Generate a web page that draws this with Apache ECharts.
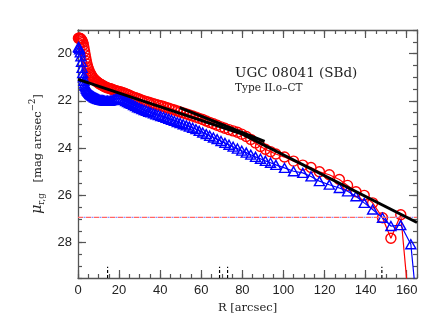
<!DOCTYPE html>
<html><head><meta charset="utf-8">
<script src="https://cdn.jsdelivr.net/npm/echarts@6/dist/echarts.min.js"></script>
<style>html,body{margin:0;padding:0;background:#fff}#c{width:430px;height:333px}</style>
</head><body><div id="c"></div>
<script>
// ---- data ----
const radius = [0.2, 0.5, 0.8, 1.1, 1.4, 1.7, 2.0, 2.3, 2.6, 2.9,
  3.2, 3.5, 3.8, 4.1, 4.4, 4.7, 5.0, 5.4, 5.8, 6.2,
  6.6, 7.0, 7.5, 8.0, 8.5, 9.0, 9.5, 10.0, 10.6, 11.2,
  11.8, 12.4, 13.0, 13.7, 14.4, 15.1, 15.8, 16.5, 17.3, 18.1,
  18.9, 19.7, 20.5, 21.4, 22.3, 23.2, 24.1, 25.0, 26.0, 27.0,
  28.0, 29.0, 30.0, 31.1, 32.2, 33.3, 34.4, 35.5, 36.7, 37.9,
  39.1, 40.3, 41.6, 42.9, 44.2, 45.5, 46.9, 48.3, 49.7, 51.2,
  52.7, 54.2, 55.8, 57.4, 59.0, 60.7, 62.4, 64.1, 65.9, 67.7,
  69.6, 71.5, 73.5, 75.5, 77.6, 79.7, 81.9, 84.1, 86.4, 88.8,
  91.2, 93.7, 96.3, 100.5, 104.9, 109.4, 113.4, 117.5, 122.3, 127.2,
  131.2, 135.3, 139.3, 143.4, 148.2, 152.3, 157.1, 162.0, 166.5];
const muR = [19.35, 19.35, 19.35, 19.36, 19.38, 19.42, 19.47, 19.53, 19.62, 19.75,
  19.9, 20.05, 20.2, 20.33, 20.45, 20.56, 20.64, 20.73, 20.81, 20.88,
  20.94, 20.99, 21.05, 21.1, 21.14, 21.18, 21.21, 21.24, 21.28, 21.31,
  21.34, 21.37, 21.4, 21.42, 21.45, 21.47, 21.49, 21.51, 21.54, 21.56,
  21.58, 21.6, 21.61, 21.64, 21.67, 21.7, 21.73, 21.76, 21.8, 21.84,
  21.87, 21.9, 21.93, 21.97, 22.0, 22.04, 22.06, 22.09, 22.12, 22.15,
  22.18, 22.21, 22.24, 22.28, 22.31, 22.35, 22.39, 22.43, 22.47, 22.51,
  22.55, 22.6, 22.64, 22.69, 22.74, 22.79, 22.85, 22.91, 22.97, 23.03,
  23.1, 23.16, 23.22, 23.27, 23.33, 23.41, 23.51, 23.63, 23.78, 23.93,
  24.05, 24.15, 24.25, 24.38, 24.55, 24.72, 24.82, 25.0, 25.13, 25.33,
  25.58, 25.85, 26.0, 26.32, 26.95, 27.82, 26.82, 31.5, 33.0];
const muG = [19.72, 19.75, 19.82, 19.95, 20.12, 20.35, 20.6, 20.82, 21.0, 21.15,
  21.27, 21.36, 21.43, 21.49, 21.54, 21.58, 21.62, 21.66, 21.7, 21.73,
  21.76, 21.79, 21.82, 21.85, 21.87, 21.89, 21.91, 21.93, 21.95, 21.96,
  21.97, 21.98, 21.99, 22.0, 22.0, 22.0, 21.99, 21.97, 21.95, 21.92,
  21.9, 21.89, 21.9, 21.93, 21.97, 22.01, 22.05, 22.09, 22.13, 22.18,
  22.22, 22.27, 22.31, 22.35, 22.39, 22.42, 22.46, 22.49, 22.53, 22.57,
  22.6, 22.64, 22.68, 22.72, 22.76, 22.8, 22.85, 22.9, 22.94, 22.99,
  23.04, 23.09, 23.14, 23.2, 23.27, 23.34, 23.41, 23.48, 23.55, 23.62,
  23.7, 23.78, 23.86, 23.94, 24.02, 24.11, 24.19, 24.28, 24.37, 24.45,
  24.54, 24.62, 24.71, 24.84, 24.98, 25.05, 25.2, 25.4, 25.55, 25.69,
  25.83, 26.04, 26.32, 26.6, 26.95, 27.3, 27.26, 28.07, 32.1];
const xTickLabels = [0, 20, 40, 60, 80, 100, 120, 140, 160];
const yTickLabels = [20, 22, 24, 26, 28];
const innerFit = [[0, 21.09], [80, 23.41]];
const outerFit = [[80, 23.41], [165, 27.15]];
const midFit = [[49.5, 22.29], [90.8, 23.72]];
const breakMarks = [14.4, 68.9, 72.8, 147.9];
const skyLevel = 26.93;
const markTop = 29.02;
const xRange = [0, 165];
const yRange = [19, 29.5];
// -----------------------------------------

const AX = '#555';
const numFont = 'Liberation Sans';
const serif = 'DejaVu Serif';

function xAx(pos, major, labels) {
  const a = {
    type: 'value', position: pos, min: xRange[0], max: xRange[1],
    splitLine: { show: false },
    axisLine: { show: major, onZero: false, lineStyle: { color: AX, width: 1.3 } },
    axisTick: { inside: true, length: major ? 8 : 4, lineStyle: { color: AX, width: 1.2 } },
    axisLabel: { show: false }
  };
  if (major) {
    a.axisTick.customValues = xTickLabels;
    a.axisLabel = { show: labels, customValues: xTickLabels, color: '#222', fontFamily: numFont, fontSize: 13, margin: 6 };
  } else {
    a.interval = 5;
  }
  return a;
}
function yAx(pos, major, labels) {
  const a = {
    type: 'value', position: pos, min: yRange[0], max: yRange[1], inverse: true,
    splitLine: { show: false },
    axisLine: { show: major, onZero: false, lineStyle: { color: AX, width: 1.3 } },
    axisTick: { inside: true, length: major ? 8 : 4, lineStyle: { color: AX, width: 1.2 } },
    axisLabel: { show: false }
  };
  if (major) {
    a.axisTick.customValues = yTickLabels;
    a.axisLabel = { show: labels, customValues: yTickLabels, color: '#222', fontFamily: numFont, fontSize: 13, margin: 6 };
  } else {
    a.interval = 0.5;
  }
  return a;
}

const xAxes = [xAx('bottom', true, true), xAx('bottom', false), xAx('top', true, false), xAx('top', false)];
xAxes[0].name = 'R [arcsec]';
xAxes[0].nameLocation = 'middle';
xAxes[0].nameGap = 18;
xAxes[0].nameTextStyle = { fontFamily: serif, fontSize: 11.5, color: '#222' };

const yAxes = [yAx('left', true, true), yAx('left', false), yAx('right', true, false), yAx('right', false)];
yAxes[0].name = '{mu|μ}{sub|r,g}{t|   [mag arcsec}{sup|−2}{t|]}';
yAxes[0].nameLocation = 'middle';
yAxes[0].nameRotate = 90;
yAxes[0].nameGap = 30;
yAxes[0].nameTextStyle = {
  color: '#222',
  rich: {
    mu: { fontFamily: serif, fontStyle: 'italic', fontSize: 14, lineHeight: 18, color: '#222' },
    sub: { fontFamily: serif, fontSize: 8.5, lineHeight: 18, verticalAlign: 'bottom', color: '#222' },
    t: { fontFamily: serif, fontSize: 11.5, lineHeight: 18, color: '#222' },
    sup: { fontFamily: serif, fontSize: 8.5, lineHeight: 18, verticalAlign: 'top', color: '#222' }
  }
};

const pairs = (xs, ys) => xs.map((x, i) => [x, ys[i]]);

const series = [
  {
    type: 'line', name: 'r', data: pairs(radius, muR), clip: true,
    symbol: 'circle', symbolSize: 10, showAllSymbol: true,
    itemStyle: { color: 'rgba(0,0,0,0)', borderColor: '#ff0000', borderWidth: 1.4 },
    lineStyle: { color: '#ff0000', width: 1.2 }, z: 2
  },
  {
    type: 'line', name: 'g', data: pairs(radius, muG), clip: true,
    symbol: 'triangle', symbolSize: [10, 9], showAllSymbol: true,
    itemStyle: { color: 'rgba(0,0,0,0)', borderColor: '#0000ff', borderWidth: 1.4 },
    lineStyle: { color: '#0000ff', width: 1.2 }, z: 3
  },
  {
    type: 'line', data: [[xRange[0], skyLevel], [xRange[1], skyLevel]], symbol: 'none',
    lineStyle: { color: '#ff6666', width: 1.2, type: [5, 3] }, z: 4
  },
  {
    type: 'line', data: [[xRange[0], skyLevel], [xRange[1], skyLevel]], symbol: 'none',
    lineStyle: { color: '#9090ff', width: 1.2, type: [2, 6], dashOffset: -5.5 }, z: 4
  },
  { type: 'line', data: innerFit, symbol: 'none', lineStyle: { color: '#000', width: 3 }, z: 5 },
  { type: 'line', data: outerFit, symbol: 'none', lineStyle: { color: '#000', width: 3 }, z: 5 },
  { type: 'line', data: midFit, symbol: 'none', lineStyle: { color: '#000', width: 3 }, z: 5 }
];
breakMarks.forEach(b => series.push({
  type: 'line', data: [[b, yRange[1]], [b, markTop]], symbol: 'none',
  lineStyle: { color: '#000', width: 1.2, type: [3, 2] }, z: 6
}));
series.forEach(s => { s.animation = false; s.silent = true; });

const chart = echarts.init(document.getElementById('c'), null, { renderer: 'canvas' });
chart.setOption({
  backgroundColor: '#fff',
  animation: false,
  grid: { left: 78, right: 13, top: 30, bottom: 55, containLabel: false },
  xAxis: xAxes,
  yAxis: yAxes,
  series: series,
  graphic: [
    { type: 'text', left: 235, top: 66, style: { text: 'UGC 08041 (SBd)', font: '13.5px "DejaVu Serif"', fill: '#222' } },
    { type: 'text', left: 235, top: 83, style: { text: 'Type II.o\u2013CT', font: '10.5px "DejaVu Serif"', fill: '#222' } }
  ]
});
</script>
</body></html>
